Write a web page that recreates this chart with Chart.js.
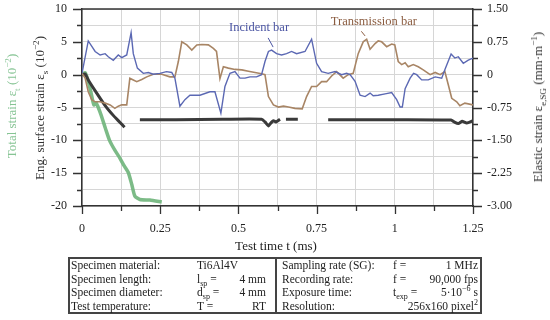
<!DOCTYPE html>
<html>
<head>
<meta charset="utf-8">
<script src="https://cdn.jsdelivr.net/npm/chart.js@4/dist/chart.umd.min.js"></script>
<style>
  body { margin: 0; background: #fff; font-family: "Liberation Serif", serif; color: #222; }
  #wrap { position: relative; width: 550px; height: 320px; overflow: hidden; }
  #chart { position: absolute; left: 0; top: 0; }
  .lbl { position: absolute; white-space: nowrap; font-size: 13px; line-height: 14px; transform: translate(-50%, -50%); }
  .rot { transform: translate(-50%, -50%) rotate(-90deg); }
  sub, sup { font-size: 70%; line-height: 0; }
  #table { position: absolute; left: 68px; top: 257px; width: 414px; height: 57px; border: 2px solid #444; box-sizing: border-box; font-size: 11.5px; }
  #table span { position: absolute; white-space: nowrap; line-height: 13.5px; }
  #divider { position: absolute; left: 205px; top: 0; bottom: 0; width: 2px; background: #444; }
</style>
</head>
<body>
<div id="wrap">
  <canvas id="chart" width="550" height="320"></canvas>
  <div class="lbl rot" style="left:12px;top:106px;color:#86c494">Total strain ε<sub>t</sub> (10<sup>−2</sup>)</div>
  <div class="lbl rot" style="left:40px;top:108px;color:#333">Eng. surface strain ε<sub>s</sub> (10<sup>−2</sup>)</div>
  <div class="lbl rot" style="left:538px;top:107px;color:#333">Elastic strain ε<sub>e,SG</sub> (mm·m<sup>−1</sup>)</div>
  <div class="lbl" style="left:276px;top:246px">Test time t (ms)</div>
  <div id="table">
    <span style="left:1px;top:0">Specimen material:</span>
    <span style="left:127px;top:0">Ti6Al4V</span>
    <span style="left:1px;top:13.5px">Specimen length:</span>
    <span style="left:127px;top:13.5px">l<sub>sp</sub> =</span>
    <span style="right:214px;top:13.5px">4 mm</span>
    <span style="left:1px;top:27px">Specimen diameter:</span>
    <span style="left:127px;top:27px">d<sub>sp</sub> =</span>
    <span style="right:214px;top:27px">4 mm</span>
    <span style="left:1px;top:40.5px">Test temperature:</span>
    <span style="left:127px;top:40.5px">T =</span>
    <span style="right:214px;top:40.5px">RT</span>
    <div id="divider"></div>
    <span style="left:212px;top:0">Sampling rate (SG):</span>
    <span style="left:323px;top:0">f =</span>
    <span style="right:2px;top:0">1 MHz</span>
    <span style="left:212px;top:13.5px">Recording rate:</span>
    <span style="left:323px;top:13.5px">f =</span>
    <span style="right:2px;top:13.5px">90,000 fps</span>
    <span style="left:212px;top:27px">Exposure time:</span>
    <span style="left:323px;top:27px">t<sub>exp</sub> =</span>
    <span style="right:2px;top:27px">5·10<sup>−6</sup> s</span>
    <span style="left:212px;top:40.5px">Resolution:</span>
    <span style="right:2px;top:40.5px">256x160 pixel<sup>2</sup></span>
  </div>
</div>
<script>
// Tick labels (only every second tick carries a label)
const xTickLabels = ['0', '0.25', '0.5', '0.75', '1', '1.25'];
const leftTickLabels = ['-20', '-15', '-10', '-5', '0', '5', '10'];
const rightTickLabels = ['-3.00', '-2.25', '-1.50', '-0.75', '0', '0.75', '1.50'];

// Incident bar, elastic strain in mm/m (right axis)
const timeIncident = [0, 0.02, 0.042, 0.058, 0.074, 0.084, 0.1, 0.116, 0.127, 0.143,
  0.157, 0.164, 0.177, 0.196, 0.212, 0.228, 0.249, 0.27, 0.287, 0.297,
  0.313, 0.329, 0.345, 0.377, 0.409, 0.425, 0.444, 0.457, 0.473, 0.489,
  0.505, 0.521, 0.537, 0.558, 0.574, 0.585, 0.596, 0.606, 0.622, 0.638,
  0.654, 0.67, 0.686, 0.713, 0.734, 0.75, 0.766, 0.787, 0.809, 0.83,
  0.846, 0.857, 0.873, 0.889, 0.905, 0.921, 0.931, 0.947, 0.969, 0.99,
  1.006, 1.017, 1.024, 1.033, 1.049, 1.06, 1.07, 1.086, 1.107, 1.129,
  1.15, 1.16, 1.18, 1.192, 1.203, 1.219, 1.235, 1.25];
const incidentBar = [0.03, 0.77, 0.53, 0.45, 0.48, 0.41, 0.33, 0.45, 0.39, 0.45,
  0.96, 0.48, 0.15, 0.03, 0.05, 0.01, 0.03, 0.07, 0.05, -0.08,
  -0.72, -0.57, -0.47, -0.47, -0.39, -0.39, -0.88, -0.27, 0.03, 0.07,
  -0.08, -0.08, -0.05, -0.05, 0, 0.3, 0.53, 0.56, 0.48, 0.45,
  0.48, 0.53, 0.48, 0.53, 0.81, 0.26, 0.07, 0.03, 0.07, 0,
  0.03, 0, -0.15, -0.47, -0.5, -0.42, -0.48, -0.47, -0.44, -0.41,
  -0.57, -0.74, -0.74, -0.32, -0.08, 0.03, 0, -0.12, -0.12, -0.05,
  -0.08, 0.11, 0.47, 0.38, 0.41, 0.26, 0.33, 0.38];

// Transmission bar, elastic strain in mm/m (right axis)
const timeTransmission = [0, 0.01, 0.02, 0.031, 0.042, 0.058, 0.074, 0.09, 0.105, 0.116,
  0.127, 0.143, 0.153, 0.164, 0.175, 0.191, 0.207, 0.228, 0.255, 0.281,
  0.297, 0.308, 0.319, 0.335, 0.351, 0.367, 0.383, 0.404, 0.42, 0.43,
  0.441, 0.452, 0.468, 0.489, 0.511, 0.532, 0.553, 0.574, 0.585, 0.596,
  0.612, 0.628, 0.644, 0.66, 0.681, 0.704, 0.718, 0.734, 0.75, 0.766,
  0.782, 0.798, 0.814, 0.835, 0.851, 0.867, 0.883, 0.899, 0.91, 0.921,
  0.937, 0.947, 0.958, 0.974, 0.99, 1.0, 1.011, 1.022, 1.033, 1.043,
  1.059, 1.075, 1.091, 1.113, 1.129, 1.145, 1.16, 1.171, 1.182, 1.198,
  1.208, 1.224, 1.25];
const transmissionBar = [0.03, -0.08, -0.39, -0.57, -0.62, -0.62, -0.65, -0.69, -0.77, -0.72,
  -0.69, -0.69, -0.08, -0.12, -0.16, -0.11, -0.05, 0.01, 0.01, -0.05,
  -0.05, 0.3, 0.75, 0.68, 0.56, 0.68, 0.69, 0.68, 0.6, 0.53,
  -0.09, 0.18, 0.15, 0.12, 0.11, 0.08, 0.05, 0.02, 0, -0.5,
  -0.69, -0.74, -0.72, -0.74, -0.77, -0.78, -0.5, -0.27, -0.27, -0.16,
  -0.16, -0.03, 0.07, -0.08, 0, 0.03, 0.48, 0.75, 0.81, 0.58,
  0.71, 0.77, 0.75, 0.64, 0.7, 0.68, 0.3, 0.23, 0.27, 0.18,
  0.23, 0.18, 0.11, 0, 0.05, 0, 0.07, -0.23, -0.54, -0.62,
  -0.71, -0.65, -0.69];

// Engineering surface strain in 10^-2 (left axis), null = no data
const timeSurface = [0, 0.01, 0.02, 0.047, 0.074, 0.1, 0.12, 0.136, 0.16,
  0.185, 0.3, 0.45, 0.574, 0.585, 0.596, 0.605, 0.612, 0.62, 0.633, 0.643,
  0.652, 0.69, 0.74,
  0.787, 1.0, 1.18, 1.19, 1.203, 1.215, 1.23, 1.25];
const surfaceStrain = [0, 0.1, -0.8, -2.8, -4.7, -6.2, -7.2, -8.0, null,
  -6.85, -6.85, -6.8, -6.8, -7.2, -7.8, -7.3, -7.0, -7.2, -6.8, null,
  -6.8, -6.8, null,
  -6.85, -6.85, -6.9, -7.2, -7.45, -7.1, -7.35, -7.0];

// Total strain in 10^-2 (left axis)
const timeTotal = [0, 0.01, 0.02, 0.03, 0.038, 0.045, 0.06, 0.075, 0.088, 0.105,
  0.121, 0.135, 0.148, 0.159, 0.169, 0.185, 0.217, 0.255];
const totalStrain = [0, 0.3, -1.0, -3.0, -4.6, -4.3, -6.0, -8.2, -10, -11.5,
  -12.7, -13.9, -14.9, -16.7, -18.5, -19.0, -19.1, -19.4];

function toPoints(xs, ys) {
  return xs.map((x, i) => ({ x: x, y: ys[i] }));
}

const serif = '"Liberation Serif", serif';

// top frame line, tick marks and the two curve labels
const framePlugin = {
  id: 'frame',
  afterDraw(chart) {
    const ctx = chart.ctx;
    const a = chart.chartArea;
    const sx = chart.scales.x, sy = chart.scales.y, sy1 = chart.scales.y1;
    ctx.save();
    ctx.strokeStyle = '#333';
    ctx.lineWidth = 1.5;
    ctx.beginPath();
    ctx.moveTo(a.left, a.top);
    ctx.lineTo(a.right, a.top);
    ctx.stroke();

    ctx.lineWidth = 1.3;
    ctx.beginPath();
    sx.ticks.forEach((t, i) => {
      const p = Math.round(sx.getPixelForValue(t.value)) + 0.5;
      ctx.moveTo(p, a.bottom);
      ctx.lineTo(p, a.bottom + (i % 2 ? 5 : 8));
    });
    sy.ticks.forEach((t, i) => {
      const p = Math.round(sy.getPixelForValue(t.value)) + 0.5;
      ctx.moveTo(a.left, p);
      ctx.lineTo(a.left - (i % 2 ? 5 : 9), p);
    });
    sy1.ticks.forEach((t, i) => {
      const p = Math.round(sy1.getPixelForValue(t.value)) + 0.5;
      ctx.moveTo(a.right, p);
      ctx.lineTo(a.right + (i % 2 ? 5 : 9), p);
    });
    ctx.stroke();

    ctx.font = '12.5px ' + serif;
    ctx.textAlign = 'center';
    ctx.textBaseline = 'middle';
    ctx.fillStyle = '#4b55a3';
    ctx.fillText('Incident bar', sx.getPixelForValue(0.566), sy.getPixelForValue(7.2));
    ctx.strokeStyle = '#4b55a3';
    ctx.lineWidth = 1;
    ctx.beginPath();
    ctx.moveTo(sx.getPixelForValue(0.595), sy.getPixelForValue(5.6));
    ctx.lineTo(sx.getPixelForValue(0.611), sy.getPixelForValue(4.2));
    ctx.stroke();

    ctx.fillStyle = '#8a5c40';
    ctx.fillText('Transmission bar', sx.getPixelForValue(0.933), sy.getPixelForValue(8.0));
    ctx.strokeStyle = '#8a5c40';
    ctx.beginPath();
    ctx.moveTo(sx.getPixelForValue(0.893), sy.getPixelForValue(6.6));
    ctx.lineTo(sx.getPixelForValue(0.905), sy.getPixelForValue(5.9));
    ctx.stroke();
    ctx.restore();
  }
};

const tickFont = { family: serif, size: 12 };

// fixed axis boxes so the plot area lands where the reference has it
function fixVertical(width) {
  return function(s) {
    s.width = width;
    s.paddingTop = 0;
    s.paddingBottom = 0;
  };
}

new Chart(document.getElementById('chart'), {
  type: 'line',
  data: {
    datasets: [
      {
        label: 'Incident bar',
        data: toPoints(timeIncident, incidentBar),
        yAxisID: 'y1',
        borderColor: '#5b68b3',
        borderWidth: 1.4,
        pointRadius: 0,
        tension: 0
      },
      {
        label: 'Transmission bar',
        data: toPoints(timeTransmission, transmissionBar),
        yAxisID: 'y1',
        borderColor: '#a88565',
        borderWidth: 1.6,
        pointRadius: 0,
        tension: 0
      },
      {
        label: 'Eng. surface strain',
        data: toPoints(timeSurface, surfaceStrain),
        yAxisID: 'y',
        borderColor: '#3a3a3a',
        borderWidth: 3,
        pointRadius: 0,
        spanGaps: false,
        tension: 0.2
      },
      {
        label: 'Total strain',
        data: toPoints(timeTotal, totalStrain),
        yAxisID: 'y',
        borderColor: 'rgba(110,180,122,0.9)',
        borderWidth: 3.5,
        pointRadius: 0,
        tension: 0.2
      }
    ]
  },
  options: {
    responsive: false,
    animation: false,
    devicePixelRatio: 1,
    layout: { padding: { top: 9, left: 0, right: 0, bottom: 0 } },
    plugins: { legend: { display: false }, tooltip: { enabled: false } },
    scales: {
      x: {
        type: 'linear',
        min: 0,
        max: 1.25,
        afterFit: function(s) { s.height = 114; s.paddingLeft = 0; s.paddingRight = 0; },
        ticks: {
          stepSize: 0.125,
          autoSkip: false,
          maxRotation: 0,
          padding: 16,
          color: '#222',
          font: tickFont,
          callback: function(v, i) { return i % 2 === 0 ? xTickLabels[i / 2] : ''; }
        },
        grid: { color: '#d6d6d6', drawTicks: false },
        border: { color: '#333', width: 1.5 }
      },
      y: {
        position: 'left',
        min: -20,
        max: 10,
        afterFit: fixVertical(82),
        ticks: {
          stepSize: 2.5,
          autoSkip: false,
          padding: 15,
          color: '#222',
          font: tickFont,
          callback: function(v, i) { return i % 2 === 0 ? leftTickLabels[i / 2] : ''; }
        },
        grid: { color: '#d6d6d6', drawTicks: false },
        border: { color: '#333', width: 1.5 }
      },
      y1: {
        position: 'right',
        min: -3,
        max: 1.5,
        afterFit: fixVertical(77),
        ticks: {
          stepSize: 0.375,
          autoSkip: false,
          padding: 14,
          color: '#222',
          font: tickFont,
          callback: function(v, i) { return i % 2 === 0 ? rightTickLabels[i / 2] : ''; }
        },
        grid: { drawOnChartArea: false, drawTicks: false },
        border: { color: '#333', width: 1.5 }
      }
    }
  },
  plugins: [framePlugin]
});
</script>
</body>
</html>
